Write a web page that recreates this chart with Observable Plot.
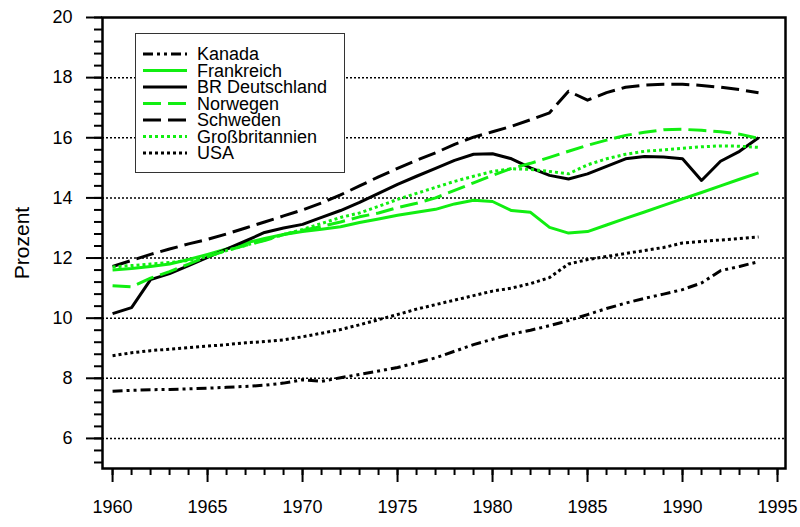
<!DOCTYPE html>
<html>
<head>
<meta charset="utf-8">
<script src="https://cdn.jsdelivr.net/npm/d3@7"></script>
<script src="https://cdn.jsdelivr.net/npm/@observablehq/plot@0.6"></script>
<style>
  html, body { margin: 0; padding: 0; background: #fff; }
  #chart { width: 800px; height: 527px; }
</style>
</head>
<body>
<div id="chart"></div>
<script>
// ---- data ----
const years = [1960,1961,1962,1963,1964,1965,1966,1967,1968,1969,1970,1971,1972,1973,1974,1975,1976,1977,1978,1979,1980,1981,1982,1983,1984,1985,1986,1987,1988,1989,1990,1991,1992,1993,1994];

const kanada        = [7.57,7.6,7.62,7.63,7.65,7.67,7.7,7.73,7.77,7.84,7.95,7.9,8.02,8.13,8.24,8.36,8.52,8.68,8.9,9.12,9.3,9.47,9.6,9.75,9.92,10.12,10.32,10.5,10.66,10.8,10.95,11.17,11.58,11.72,11.88];
const frankreich    = [11.6,11.65,11.72,11.8,11.95,12.12,12.3,12.5,12.65,12.78,12.88,12.96,13.04,13.18,13.3,13.42,13.52,13.62,13.8,13.92,13.88,13.58,13.52,13.02,12.83,12.88,13.1,13.32,13.53,13.75,13.97,14.18,14.4,14.62,14.83];
const deutschland   = [10.15,10.35,11.28,11.48,11.75,12.02,12.3,12.57,12.85,13.0,13.12,13.35,13.58,13.85,14.15,14.45,14.72,14.98,15.25,15.45,15.47,15.3,15.0,14.75,14.63,14.8,15.05,15.3,15.38,15.36,15.3,14.58,15.22,15.55,16.0];
const norwegen      = [11.08,11.04,11.33,11.55,11.8,12.05,12.25,12.42,12.58,12.78,12.92,13.05,13.2,13.37,13.5,13.68,13.82,14.0,14.25,14.5,14.75,14.98,15.15,15.35,15.55,15.75,15.92,16.08,16.18,16.27,16.28,16.25,16.2,16.12,15.98];
const schweden      = [11.72,11.92,12.12,12.3,12.47,12.62,12.8,13.0,13.2,13.4,13.6,13.83,14.1,14.4,14.7,14.98,15.25,15.5,15.78,16.02,16.2,16.38,16.6,16.83,17.55,17.25,17.5,17.68,17.75,17.78,17.78,17.74,17.68,17.6,17.5];
const grossbritannien = [11.7,11.75,11.8,11.85,11.92,12.05,12.25,12.42,12.6,12.78,12.95,13.15,13.35,13.5,13.72,13.95,14.15,14.35,14.55,14.72,14.88,14.97,14.95,14.88,14.8,15.1,15.3,15.45,15.55,15.6,15.65,15.7,15.73,15.72,15.68];
const usa           = [8.75,8.85,8.92,8.97,9.02,9.07,9.12,9.18,9.22,9.28,9.38,9.5,9.62,9.78,9.95,10.12,10.3,10.45,10.6,10.75,10.9,11.0,11.15,11.35,11.8,11.95,12.05,12.15,12.25,12.35,12.5,12.55,12.6,12.65,12.7];

const seriesNames  = ["Kanada","Frankreich","BR Deutschland","Norwegen","Schweden","Großbritannien","USA"];
const seriesValues = [kanada, frankreich, deutschland, norwegen, schweden, grossbritannien, usa];

const xTickLabels = [1960,1965,1970,1975,1980,1985,1990,1995];
const yTickLabels = [6,8,10,12,14,16,18,20];
const gridValues  = [6,8,10,12,14,16,18];

// ---- styles ----
const GREEN = "#11ee11";
const seriesColors = ["#000", GREEN, "#000", GREEN, "#000", GREEN, "#000"];
const seriesDash   = ["10,4,3,4,3,4", null, null, "18,7", "18,7", "3,3", "3,3"];

const xMinor = d3.range(1960, 1996, 1);
const yMinor = d3.range(5.2, 20.01, 0.4).map(v => Math.round(v * 10) / 10);

const data = seriesNames.flatMap((name, i) =>
  years.map((year, j) => ({ name, year, value: seriesValues[i][j] }))
);

const FONT = "'Liberation Sans', Arial, Helvetica, sans-serif";

const chart = Plot.plot({
  width: 800,
  height: 527,
  marginLeft: 102,
  marginRight: 15,
  marginTop: 17,
  marginBottom: 59,
  style: { fontFamily: FONT, fontSize: "18px", color: "#000", background: "#fff", overflow: "visible" },
  x: { domain: [1959.47, 1995.42] },
  y: { domain: [5, 20] },
  marks: [
    Plot.ruleY(gridValues, { stroke: "#000", strokeWidth: 1.5, strokeDasharray: "2,2" }),
    ...seriesNames.map((name, i) =>
      Plot.line(data.filter(d => d.name === name), {
        x: "year", y: "value",
        stroke: seriesColors[i],
        strokeWidth: 3,
        strokeDasharray: seriesDash[i],
        strokeLinecap: "butt",
        strokeLinejoin: "round"
      })
    ),
    Plot.frame({ stroke: "#000", strokeWidth: 2.5 }),
    Plot.axisY({ ticks: yMinor, tickSize: 8, tickFormat: () => "", strokeWidth: 2, label: null }),
    Plot.axisY({ ticks: yTickLabels, tickSize: 16, tickPadding: 14, strokeWidth: 2, tickFormat: d => String(d), label: null, fontSize: 18 }),
    Plot.axisX({ ticks: xMinor, tickSize: 7, tickFormat: () => "", strokeWidth: 2, label: null }),
    Plot.axisX({ ticks: xTickLabels, tickSize: 14, tickPadding: 18, strokeWidth: 2, tickFormat: d => String(d), label: null, fontSize: 18 }),
    Plot.text(["Prozent"], { frameAnchor: "left", dx: -80, rotate: -90, text: d => d, fontSize: 21, textAnchor: "middle" })
  ]
});

// ---- legend (inside plot, top-left) ----
const svg = d3.select(chart);
const lg = svg.append("g")
  .attr("font-family", FONT)
  .attr("font-size", 18)
  .attr("text-anchor", "start")
  .style("text-anchor", "start");
lg.append("rect")
  .attr("x", 135.5).attr("y", 33.5).attr("width", 209).attr("height", 139)
  .attr("fill", "#fff").attr("stroke", "#333").attr("stroke-width", 1);
seriesNames.forEach((name, i) => {
  const y = 54 + i * 16.5;
  lg.append("line")
    .attr("x1", 143).attr("x2", 187).attr("y1", y).attr("y2", y)
    .attr("stroke", seriesColors[i]).attr("stroke-width", 3)
    .attr("stroke-dasharray", seriesDash[i] || null);
  lg.append("text")
    .attr("x", 197).attr("y", y).attr("dy", "0.35em")
    .attr("text-anchor", "start")
    .style("text-anchor", "start")
    .attr("fill", "#000").text(name);
});

document.getElementById("chart").appendChild(chart);
</script>
</body>
</html>
